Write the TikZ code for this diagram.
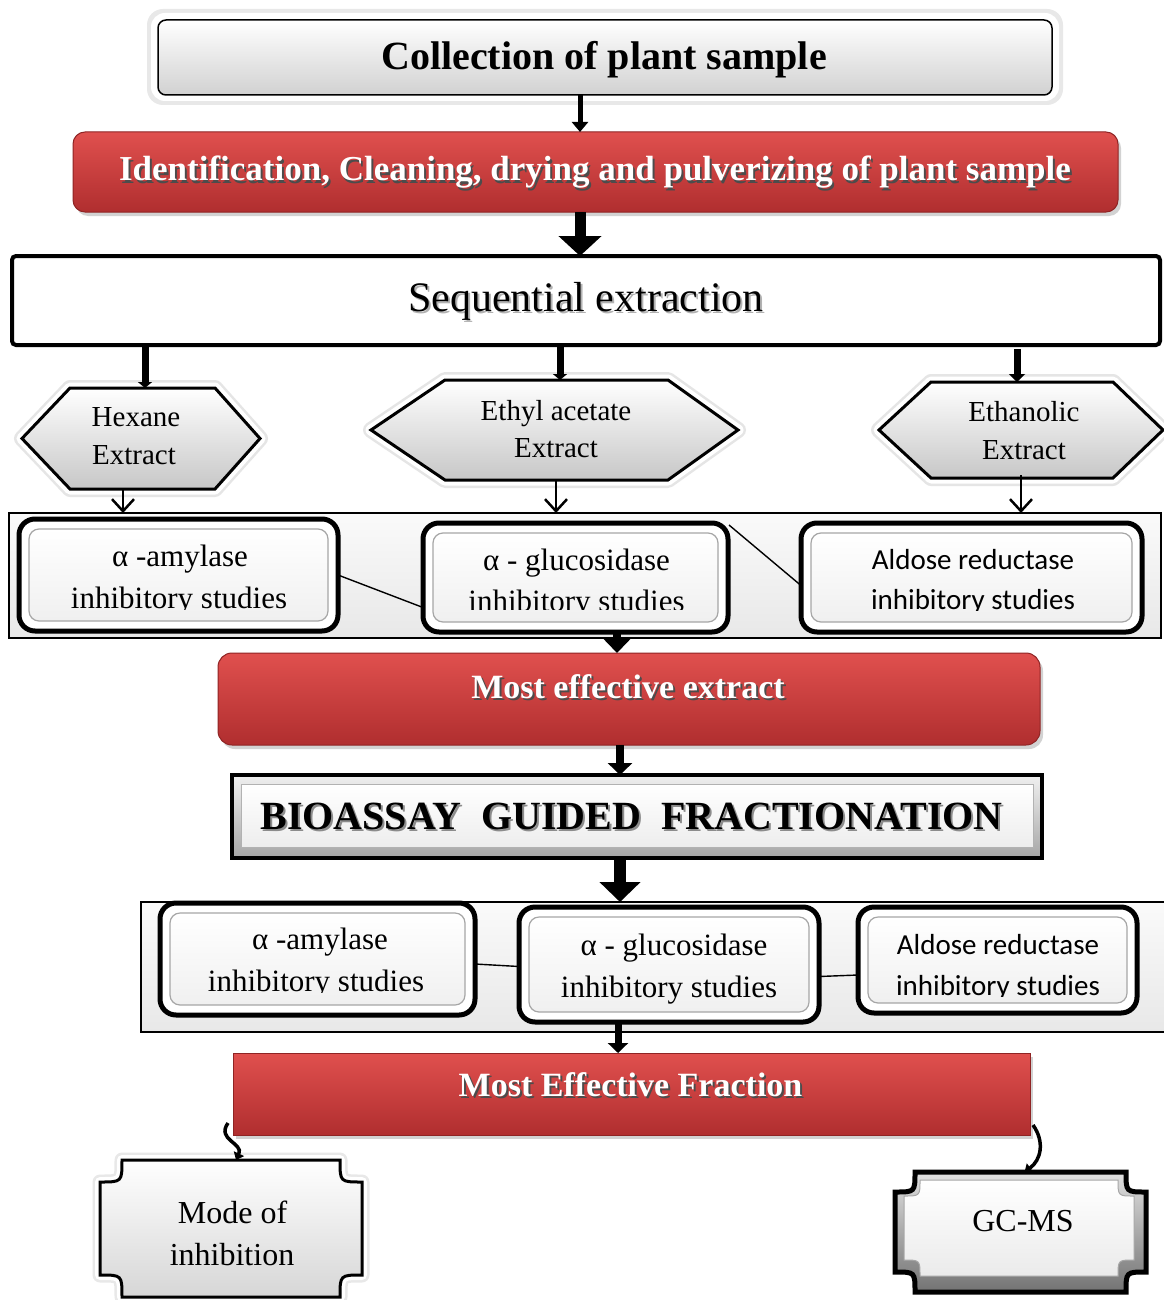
\documentclass[tikz,border=0pt]{standalone}
\usepackage{fontspec}
\setmainfont{Liberation Serif}
\newfontfamily\calfont{Carlito}
\usetikzlibrary{arrows.meta,shadows}
\definecolor{redtop}{HTML}{E0504E}
\definecolor{redbot}{HTML}{B02E2F}
\definecolor{redline}{HTML}{8F2424}
\newcommand\shd[3]{\rlap{\kern#3\raisebox{-#3}{\textcolor{#1}{#2}}}#2}
\newcommand\hexpath[6]{(#1,{(#5+#6)/2}) -- (#2,#5) -- (#3,#5) -- (#4,{(#5+#6)/2}) -- (#3,#6) -- (#2,#6) -- cycle}
\newcommand\plaquepath[5]{({#1+#5},#2) -- ({#3-#5},#2) .. controls ({#3-#5},{#2+#5}) .. (#3,{#2+#5}) -- (#3,{#4-#5}) .. controls ({#3-#5},{#4-#5}) .. ({#3-#5},#4) -- ({#1+#5},#4) .. controls ({#1+#5},{#4-#5}) .. (#1,{#4-#5}) -- (#1,{#2+#5}) .. controls ({#1+#5},{#2+#5}) .. ({#1+#5},#2) -- cycle}
\begin{document}
\begin{tikzpicture}[x=1pt,y=-1pt,
  every node/.style={inner sep=0pt,outer sep=0pt},
  redbox/.style={draw=redline,line width=1pt,top color=redtop,bottom color=redbot,
     drop shadow={shadow xshift=3pt,shadow yshift=-4pt,opacity=0.35}},
  collbox/.style={draw=black,line width=1.5pt,rounded corners=8pt,top color=white,bottom color=black!18},
  seqbox/.style={draw=black,line width=4pt,rounded corners=4pt,fill=white},
  hexshape/.style={draw=black,line width=3pt,line join=miter,top color=white,bottom color=black!22},
  hexglowA/.style={draw=black!10,line width=16pt,line join=round},
  hexglowB/.style={draw=white,line width=11pt,line join=round},
  groupbox/.style={draw=black,line width=1.5pt,top color=black!2,bottom color=black!9},
  dblbox/.style={draw=black,line width=5pt,rounded corners=16pt,fill=white,
     drop shadow={shadow xshift=2pt,shadow yshift=-2pt,opacity=0.35}},
  inbox/.style={draw=black!35,line width=1.2pt,rounded corners=10pt,top color=white,bottom color=black!6},
  biobox/.style={draw=black,line width=4pt,top color=black!6,bottom color=black!35},
  ghost/.style={draw=none},
  tser/.style={font=\fontsize{31}{36}\selectfont,anchor=base},
  tcal/.style={font=\calfont\fontsize{29}{34}\selectfont,anchor=base},
  thex/.style={font=\fontsize{29}{34}\selectfont,anchor=base},
  tred/.style={font=\bfseries\fontsize{34}{40}\selectfont,anchor=base,text=white},
  tbig/.style={font=\fontsize{32}{38}\selectfont,anchor=base},
  link/.style={draw=black,line width=1.4pt},
  thinarr/.style={draw=black,line width=2.5pt,-{Straight Barb[width=22pt,length=12pt,line width=2.5pt]}},
  curvearr/.style={draw=black,line width=3.5pt,-{Triangle[width=11pt,length=7pt]}}
]
\useasboundingbox (0,0) rectangle (1163,1300);
\fill[white] (0,0) rectangle (1163,1300);

% ---------- Collection ----------
\fill[black!9,rounded corners=16pt] (147,9) rectangle (1063,105);
\fill[white,rounded corners=14pt] (151,13) rectangle (1059,101);
\node[collbox,minimum width=894pt,minimum height=75pt] (coll) at (605,57.5) {};
\node[font=\bfseries\fontsize{40}{46}\selectfont,anchor=base] (collt) at (604,70) {Collection of plant sample};

% ---------- Identification ----------
\node[redbox,rounded corners=12pt,minimum width=1045pt,minimum height=80pt] (ident) at (595.5,172) {};
\node[font=\bfseries\fontsize{35}{40}\selectfont,anchor=base,text=white] (identt) at (595,181) {\shd{black!70}{Identification, Cleaning, drying and pulverizing of plant sample}{2pt}};

% ---------- Sequential extraction ----------
\node[seqbox,minimum width=1148pt,minimum height=89pt] (seq) at (586,300.5) {};
\node[font=\fontsize{42}{48}\selectfont,anchor=base] (seqt) at (586,311) {\shd{black!30}{Sequential extraction}{2pt}};

% ---------- Hexagons ----------
\draw[hexglowA] \hexpath{22}{70}{215}{260}{388}{489};
\draw[hexglowA] \hexpath{371}{445}{668}{738}{380}{480};
\draw[hexglowA] \hexpath{879}{931}{1113}{1163}{382}{478};
\draw[hexglowB] \hexpath{22}{70}{215}{260}{388}{489};
\draw[hexglowB] \hexpath{371}{445}{668}{738}{380}{480};
\draw[hexglowB] \hexpath{879}{931}{1113}{1163}{382}{478};
\draw[hexshape] \hexpath{22}{70}{215}{260}{388}{489};
\draw[hexshape] \hexpath{371}{445}{668}{738}{380}{480};
\draw[hexshape] \hexpath{879}{931}{1113}{1163}{382}{478};
\node[ghost,minimum width=238pt,minimum height=101pt] (hex) at (141,438.5) {};
\node[ghost,minimum width=367pt,minimum height=100pt] (eth) at (554.5,430) {};
\node[ghost,minimum width=284pt,minimum height=96pt] (etoh) at (1021,430) {};
\node[thex] (hext1) at (136,426) {Hexane};
\node[thex] (hext2) at (134,464) {Extract};
\node[thex] (etht1) at (556,420) {Ethyl acetate};
\node[thex] (etht2) at (556,457) {Extract};
\node[thex] (etoht1) at (1024,421) {Ethanolic};
\node[thex] (etoht2) at (1024,459) {Extract};

% ---------- Group 1 ----------
\node[groupbox,minimum width=1152pt,minimum height=125pt] (grp1) at (585,575.5) {};
\node[dblbox,minimum width=319pt,minimum height=112pt] (a1) at (178.5,575) {};
\node[dblbox,minimum width=305pt,minimum height=109pt] (g1) at (575.5,577.5) {};
\node[dblbox,minimum width=341pt,minimum height=109pt] (r1) at (971.5,577.5) {};
\foreach \b in {a1,g1,r1}
  \draw[inbox] ([shift={(10pt,-10pt)}]\b.north west) rectangle ([shift={(-10pt,10pt)}]\b.south east);
\draw[link] (a1.east) -- ([yshift=-30pt]g1.west);
\draw[link] ([shift={(1pt,-2pt)}]g1.north east) -- ([yshift=-8pt]r1.west);
\begin{scope}
  \clip (0,520) rectangle (400,609.5);
  \node[tser] (a1t1) at (180,566) {α -amylase};
  \node[tser] (a1t2) at (179,608) {inhibitory studies};
\end{scope}
\begin{scope}
  \clip (420,520) rectangle (740,609);
  \node[tser] (g1t1) at (576.5,570) {α - glucosidase};
  \node[tser] (g1t2) at (576.5,611) {inhibitory studies};
\end{scope}
\begin{scope}
  \clip (800,520) rectangle (1163,610);
  \node[tcal] (r1t1) at (973,569) {Aldose reductase};
  \node[tcal] (r1t2) at (973,609) {inhibitory studies};
\end{scope}

% ---------- Most effective extract ----------
\node[redbox,rounded corners=14pt,minimum width=822pt,minimum height=92pt] (mee) at (629,699) {};
\node[tred] (meet) at (628,698) {\shd{black!70}{Most effective extract}{2pt}};

% ---------- Bioassay ----------
\node[biobox,minimum width=810pt,minimum height=83pt] (bio) at (637,816.5) {};
\draw[draw=black!30,line width=1pt,top color=white,bottom color=black!7]
  ([shift={(9pt,-9pt)}]bio.north west) rectangle ([shift={(-9pt,11pt)}]bio.south east);
\node[font=\bfseries\fontsize{40}{46}\selectfont,anchor=base] (biot) at (631.5,829) {\shd{black!45}{BIOASSAY\ \ GUIDED\ \ FRACTIONATION}{2pt}};

% ---------- Group 2 ----------
\node[groupbox,minimum width=1029pt,minimum height=130pt] (grp2) at (655.5,967) {};
\node[dblbox,minimum width=315pt,minimum height=112pt] (a2) at (317.5,959) {};
\node[dblbox,minimum width=300pt,minimum height=115pt] (g2) at (669,964.5) {};
\node[dblbox,minimum width=279pt,minimum height=106pt] (r2) at (997.5,960) {};
\foreach \b in {a2,g2,r2}
  \draw[inbox] ([shift={(10pt,-10pt)}]\b.north west) rectangle ([shift={(-10pt,10pt)}]\b.south east);
\draw[link] ([yshift=-5pt]a2.east) -- ([yshift=-2pt]g2.west);
\draw[link] ([yshift=-12pt]g2.east) -- ([yshift=-15pt]r2.west);
\begin{scope}
  \clip (150,910) rectangle (480,992);
  \node[tser] (a2t1) at (320,949) {α -amylase};
  \node[tser] (a2t2) at (316,991) {inhibitory studies};
\end{scope}
\node[tser] (g2t1) at (674,955) {α - glucosidase};
\node[tser] (g2t2) at (669,997) {inhibitory studies};
\begin{scope}
  \clip (860,910) rectangle (1140,996);
  \node[tcal] (r2t1) at (998,954) {Aldose reductase};
  \node[tcal] (r2t2) at (998,995) {inhibitory studies};
\end{scope}

% ---------- Most Effective Fraction ----------
\node[ghost,minimum width=797pt,minimum height=82pt] (mef) at (631.5,1094) {};
\node[ghost,minimum width=262pt,minimum height=137pt] (mode) at (231,1228.5) {};
\node[ghost,minimum width=251pt,minimum height=120pt] (gc) at (1020.5,1232) {};
\node[redbox,minimum width=797pt,minimum height=82pt] (mefb) at (mef) {};
\node[tred] (meft) at (630.5,1096) {\shd{black!70}{Most Effective Fraction}{2pt}};

% ---------- Mode of inhibition ----------
\draw[line width=15pt,draw=black!9,line join=round] \plaquepath{100}{1160}{362}{1297}{22};
\draw[line width=10pt,draw=white,line join=round] \plaquepath{100}{1160}{362}{1297}{22};
\draw[line width=3pt,draw=black,top color=white,bottom color=black!16] \plaquepath{100}{1160}{362}{1297}{22};
\node[tbig] (modet1) at (232.5,1223) {Mode of};
\node[tbig] (modet2) at (232,1265) {inhibition};

% ---------- GC-MS ----------
\draw[line width=5pt,draw=black,top color=black!12,bottom color=black!55] \plaquepath{895}{1172}{1146}{1292}{20};
\draw[line width=1pt,draw=black!35,top color=white,bottom color=black!8] \plaquepath{904}{1180}{1134}{1276}{16};
\node[tbig] (gct) at (1023,1231) {GC-MS};

% ---------- Curved connectors ----------
\draw[curvearr] ([shift={(-5pt,12pt)}]mef.south west) .. controls (216,1140) and (244,1143) .. ([xshift=5pt]mode.north);
\draw[curvearr] ([shift={(3pt,10pt)}]mef.south east) .. controls (1045,1142) and (1041,1160) .. ([xshift=4pt]gc.north);

% ---------- Arrows ----------
\draw[line width=5pt,-{Triangle[width=16pt,length=10pt]}] (coll.south -| 580,0) -- (ident.north -| 580,0);
\draw[line width=11pt,-{Triangle[width=42pt,length=20pt]}] (ident.south -| 580,0) -- (seq.north -| 580,0);
\draw[line width=7pt,-{Triangle[width=14pt,length=6pt]}] (seq.south -| 145,0) -- (hex.north -| 145,0);
\draw[line width=7pt,-{Triangle[width=14pt,length=6pt]}] (seq.south -| 560,0) -- (eth.north -| 560,0);
\draw[line width=7pt,-{Triangle[width=16pt,length=8pt]}] ([yshift=-4pt]seq.south -| 1017,0) -- (etoh.north -| 1017,0);
\draw[thinarr] (hex.south -| 123,0) -- (grp1.north -| 123,0);
\draw[thinarr] (eth.south -| 556,0) -- (grp1.north -| 556,0);
\draw[thinarr] ([yshift=3pt]etoh.south -| 1021,0) -- (grp1.north -| 1021,0);
\draw[line width=8pt,-{Triangle[width=26pt,length=14pt]}] (g1.south -| 617,0) -- (mee.north -| 617,0);
\draw[line width=8pt,-{Triangle[width=24pt,length=12pt]}] (mee.south -| 620,0) -- (bio.north -| 620,0);
\draw[line width=12pt,-{Triangle[width=40pt,length=20pt]}] (bio.south -| 620,0) -- (grp2.north -| 620,0);
\draw[line width=7pt,-{Triangle[width=20pt,length=10pt]}] (g2.south -| 618,0) -- (mef.north -| 618,0);
\end{tikzpicture}
\end{document}
